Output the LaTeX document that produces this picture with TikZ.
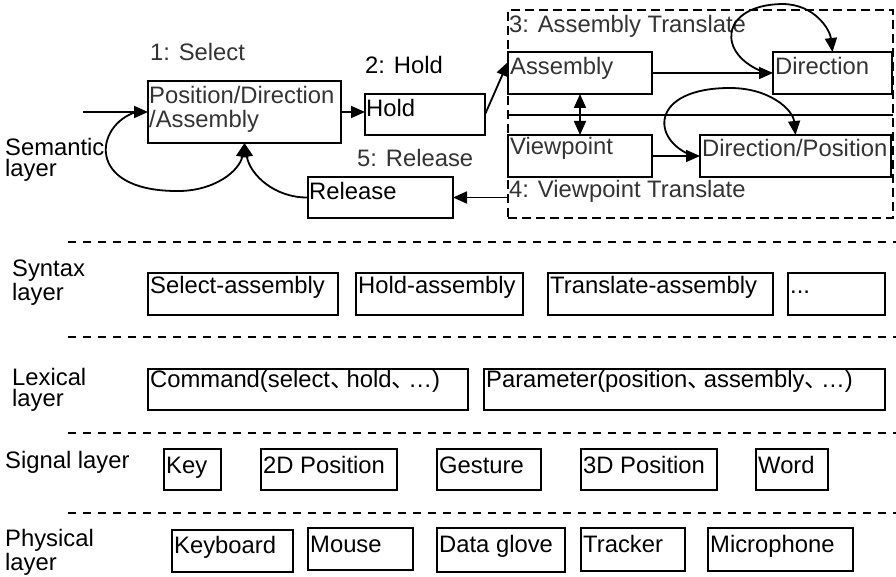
\documentclass[tikz,border=0pt]{standalone}
\usepackage{fontspec}
\setmainfont{Liberation Sans}
\newfontfamily\cjkfont[RawFeature={+halt}]{Noto Sans CJK SC}
\usetikzlibrary{arrows.meta}
\newcommand\dunhao{{\cjkfont 、}\kern0.2em}
\newcommand\bx[5]{\node[boxst, minimum width={(#4-#2)*1pt}, minimum height={(#5-#3)*1pt}] (#1) at (#2,#3) {};}
\begin{document}
\begin{tikzpicture}[x=1pt,y=-1pt,
  boxst/.style={draw, line width=1.6pt, inner sep=0pt, outer sep=0pt, anchor=north west},
  txt/.style={inner sep=0pt, anchor=base west, font=\fontsize{23.8}{21}\selectfont},
  gtxt/.style={txt, text=black!80},
  arr/.style={line width=1.8pt, -{Triangle[length=14pt,width=12pt]}},
  darr/.style={line width=1.8pt, {Triangle[length=14pt,width=12pt]}-{Triangle[length=14pt,width=12pt]}},
  divider/.style={line width=1.4pt, dash pattern=on 8pt off 7pt},
  grpst/.style={draw, line width=1.6pt, dash pattern=on 9pt off 5pt, inner sep=0pt, outer sep=0pt, anchor=north west}]
\useasboundingbox (0,0) rectangle (896,577);

% ---------- layer labels (anchor at the baseline of the last line) ----------
\node[txt, align=left] (lsem) at (5,177) {Semantic\\layer};
\node[txt, align=left] (lsyn) at (12,300) {Syntax\\layer};
\node[txt, align=left] (llex) at (12,406) {Lexical\\layer};
\node[txt] (lsig) at (5,468) {Signal layer};
\node[txt, align=left, font=\fontsize{23.8}{22}\selectfont] (lphy) at (5,570) {Physical\\layer};

% ---------- dividers ----------
\draw[divider] (68,242) -- (896,242);
\draw[divider] (68,337) -- (896,337);
\draw[divider] (68,433) -- (896,433);
\draw[divider] (68,513) -- (896,513);

% ---------- semantic layer ----------
\node[grpst, minimum width=385pt, minimum height=208pt] (grp) at (508,10) {};
\coordinate (dv) at (0,115);
\draw[line width=1.6pt] (grp.west |- dv) -- (grp.east |- dv);

\bx{pos}{148}{81}{341}{143}
\bx{hold}{365}{94}{485}{135}
\bx{rel}{308}{177}{453}{218}
\bx{asm}{508}{52}{652}{94}
\bx{dir}{773}{52}{892}{94}
\bx{vp}{508}{135}{652}{177}
\bx{dpos}{700}{135}{891}{177}

\node[gtxt] (t1) at (150,61) {1: Select};
\node[txt] (t2) at (365,74) {2: Hold};
\node[gtxt] (t5) at (357,167) {5: Release};
\node[gtxt] (t3) at (509,33) {3: Assembly Translate};
\node[gtxt] (t4) at (509,198) {4: Viewpoint Translate};

\node[gtxt, align=left, font=\fontsize{23.8}{24}\selectfont] (posT) at (149,128) {Position/Direction\\/Assembly};
\node[txt] (holdT) at (366,117) {Hold};
\node[txt] (relT) at (309,200) {Release};
\node[gtxt] (asmT) at (510,75) {Assembly};
\node[gtxt] (dirT) at (775,75) {Direction};
\node[gtxt] (vpT) at (510,155) {Viewpoint};
\node[gtxt] (dposT) at (702,157) {Direction/Position};

\coordinate (inp) at (83,112);
\draw[arr] (inp) -- (pos.west);
\draw[arr] (pos.east) -- (pos.east -| hold.west);
\draw[arr] (hold.east) -- ([yshift=-10pt]asm.north west);
\draw[arr] (asm.east) -- (dir.west);
\draw[arr] (vp.east) -- (dpos.west);
\draw[darr] (asm.south) -- (vp.north);
\draw[arr] (grp.west |- rel.east) -- (rel.east);
\draw[arr] ([xshift=-12pt]pos.west) .. controls (95,125) and (85,190) .. (175,191)
  .. controls (215,192) and (240,170) .. (pos.south);
\draw[arr] (rel.west) .. controls (275,198) and (250,175) .. (pos.south);
\draw[arr] ([xshift=-7pt]dir.west) .. controls (715,55) and (720,5) .. (782,4)
  .. controls (815,4) and (830,30) .. (dir.north);
\draw[arr] ([xshift=-7pt]dpos.west) .. controls (650,140) and (650,88) .. (730,88)
  .. controls (770,88) and (793,110) .. (dpos.north);

% ---------- syntax layer ----------
\bx{s1}{148}{273}{338}{315}
\bx{s2}{356}{273}{523}{315}
\bx{s3}{548}{273}{773}{315}
\bx{s4}{788}{273}{885}{315}
\node[txt] (s1T) at (150,293) {Select-assembly};
\node[txt] (s2T) at (358,293) {Hold-assembly};
\node[txt] (s3T) at (550,293) {Translate-assembly};
\node[txt] (s4T) at (790,293) {...};

% ---------- lexical layer ----------
\bx{x1}{148}{369}{468}{410}
\bx{x2}{484}{369}{885}{410}
\node[txt] (x1T) at (150,387) {Command(select\dunhao hold\dunhao …)};
\node[txt] (x2T) at (486,387) {Parameter(position\dunhao assembly\dunhao …)};

% ---------- signal layer ----------
\bx{g1}{164}{449}{221}{490}
\bx{g2}{261}{449}{397}{490}
\bx{g3}{437}{449}{541}{490}
\bx{g4}{581}{449}{717}{490}
\bx{g5}{756}{449}{828}{490}
\node[txt] (g1T) at (166,473) {Key};
\node[txt] (g2T) at (263,473) {2D Position};
\node[txt] (g3T) at (439,473) {Gesture};
\node[txt] (g4T) at (583,473) {3D Position};
\node[txt] (g5T) at (758,473) {Word};

% ---------- physical layer ----------
\bx{p1}{172}{530}{293}{572}
\bx{p2}{308}{528}{413}{570}
\bx{p3}{437}{528}{565}{572}
\bx{p4}{581}{528}{685}{571}
\bx{p5}{708}{528}{853}{571}
\node[txt] (p1T) at (174,553) {Keyboard};
\node[txt] (p2T) at (310,552) {Mouse};
\node[txt] (p3T) at (439,552) {Data glove};
\node[txt] (p4T) at (583,552) {Tracker};
\node[txt] (p5T) at (710,552) {Microphone};
\end{tikzpicture}
\end{document}
